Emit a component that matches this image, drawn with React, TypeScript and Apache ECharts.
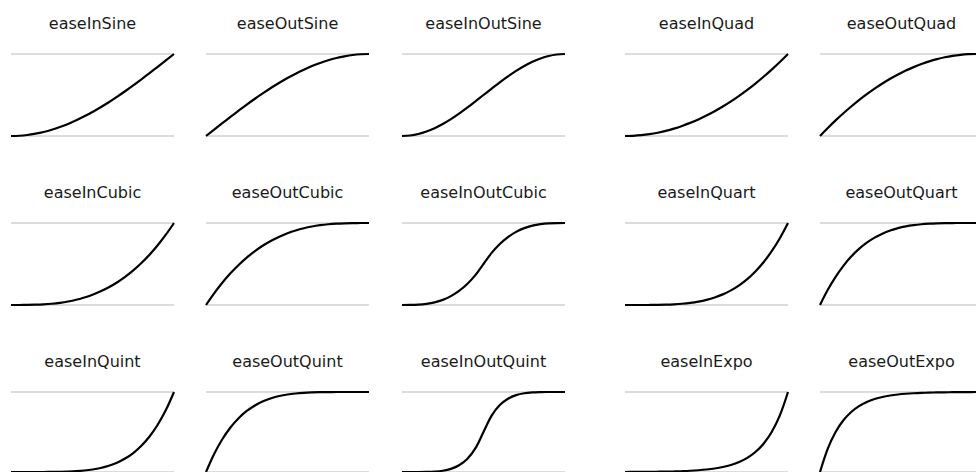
import React, { useEffect, useRef } from "react";
import * as echarts from "echarts";

// shared x positions (progress 0..1)
const tValues = [0, 0.05, 0.1, 0.15, 0.2, 0.25, 0.3, 0.35, 0.4, 0.45, 0.5, 0.55, 0.6, 0.65, 0.7, 0.75, 0.8, 0.85, 0.9, 0.95, 1];

const easeInSine = [0, 0.003, 0.012, 0.028, 0.049, 0.076, 0.109, 0.147, 0.191, 0.24, 0.293, 0.351, 0.412, 0.478, 0.546, 0.617, 0.691, 0.767, 0.844, 0.922, 1];
const easeOutSine = [0, 0.078, 0.156, 0.233, 0.309, 0.383, 0.454, 0.522, 0.588, 0.649, 0.707, 0.76, 0.809, 0.853, 0.891, 0.924, 0.951, 0.972, 0.988, 0.997, 1];
const easeInOutSine = [0, 0.006, 0.024, 0.054, 0.095, 0.146, 0.206, 0.273, 0.345, 0.422, 0.5, 0.578, 0.655, 0.727, 0.794, 0.854, 0.905, 0.946, 0.976, 0.994, 1];
const easeInQuad = [0, 0.0025, 0.01, 0.0225, 0.04, 0.0625, 0.09, 0.1225, 0.16, 0.2025, 0.25, 0.3025, 0.36, 0.4225, 0.49, 0.5625, 0.64, 0.7225, 0.81, 0.9025, 1];
const easeOutQuad = [0, 0.0975, 0.19, 0.2775, 0.36, 0.4375, 0.51, 0.5775, 0.64, 0.6975, 0.75, 0.7975, 0.84, 0.8775, 0.91, 0.9375, 0.96, 0.9775, 0.99, 0.9975, 1];
const easeInCubic = [0, 0.0001, 0.001, 0.0034, 0.008, 0.0156, 0.027, 0.0429, 0.064, 0.0911, 0.125, 0.1664, 0.216, 0.2746, 0.343, 0.4219, 0.512, 0.6141, 0.729, 0.8574, 1];
const easeOutCubic = [0, 0.1426, 0.271, 0.3859, 0.488, 0.5781, 0.657, 0.7254, 0.784, 0.8336, 0.875, 0.9089, 0.936, 0.9571, 0.973, 0.9844, 0.992, 0.9966, 0.999, 0.9999, 1];
const easeInOutCubic = [0, 0.0005, 0.004, 0.0135, 0.032, 0.0625, 0.108, 0.1715, 0.256, 0.3645, 0.5, 0.6355, 0.744, 0.8285, 0.892, 0.9375, 0.968, 0.9865, 0.996, 0.9995, 1];
const easeInQuart = [0, 0, 0.0001, 0.0005, 0.0016, 0.0039, 0.0081, 0.015, 0.0256, 0.041, 0.0625, 0.0915, 0.1296, 0.1785, 0.2401, 0.3164, 0.4096, 0.522, 0.6561, 0.8145, 1];
const easeOutQuart = [0, 0.1855, 0.3439, 0.478, 0.5904, 0.6836, 0.7599, 0.8215, 0.8704, 0.9085, 0.9375, 0.959, 0.9744, 0.985, 0.9919, 0.9961, 0.9984, 0.9995, 0.9999, 1, 1];
const easeInQuint = [0, 0, 0, 0.0001, 0.0003, 0.001, 0.0024, 0.0053, 0.0102, 0.0185, 0.0313, 0.0503, 0.0778, 0.116, 0.1681, 0.2373, 0.3277, 0.4437, 0.5905, 0.7738, 1];
const easeOutQuint = [0, 0.2262, 0.4095, 0.5563, 0.6723, 0.7627, 0.8319, 0.884, 0.9222, 0.9497, 0.9688, 0.9815, 0.9898, 0.9947, 0.9976, 0.999, 0.9997, 0.9999, 1, 1, 1];
const easeInOutQuint = [0, 0.0001, 0.0002, 0.0012, 0.0051, 0.0156, 0.0389, 0.084, 0.1638, 0.2952, 0.5, 0.7048, 0.8362, 0.916, 0.9611, 0.9844, 0.9949, 0.9988, 0.9998, 1, 1];
const easeInExpo = [0, 0.0014, 0.002, 0.0028, 0.0039, 0.0055, 0.0078, 0.011, 0.0156, 0.0221, 0.0313, 0.0442, 0.0625, 0.0884, 0.125, 0.1768, 0.25, 0.3536, 0.5, 0.7071, 1];
const easeOutExpo = [0, 0.2929, 0.5, 0.6464, 0.75, 0.8232, 0.875, 0.9116, 0.9375, 0.9558, 0.9688, 0.9779, 0.9844, 0.989, 0.9922, 0.9945, 0.9961, 0.9972, 0.998, 0.9986, 1];

const panelNames = [
  "easeInSine", "easeOutSine", "easeInOutSine", "easeInQuad", "easeOutQuad",
  "easeInCubic", "easeOutCubic", "easeInOutCubic", "easeInQuart", "easeOutQuart",
  "easeInQuint", "easeOutQuint", "easeInOutQuint", "easeInExpo", "easeOutExpo",
];
const panelValues = [
  easeInSine, easeOutSine, easeInOutSine, easeInQuad, easeOutQuad,
  easeInCubic, easeOutCubic, easeInOutCubic, easeInQuart, easeOutQuart,
  easeInQuint, easeOutQuint, easeInOutQuint, easeInExpo, easeOutExpo,
];

// layout
const colLefts = [11, 206, 402, 625, 820];
const rowTops = [54, 223, 392];
const rowHeights = [82, 82, 82];
const panelW = 163;
const titleOffset = 31;

export default function App() {
  const ref = useRef<HTMLDivElement>(null);

  useEffect(() => {
    if (!ref.current) return;
    const chart = echarts.init(ref.current, null, { renderer: "svg" });

    const grids: any[] = [];
    const xAxes: any[] = [];
    const yAxes: any[] = [];
    const series: any[] = [];
    const titles: any[] = [];

    panelNames.forEach((name, i) => {
      const r = Math.floor(i / 5);
      const c = i % 5;
      const left = colLefts[c];
      const top = rowTops[r];
      grids.push({ left, top, width: panelW, height: rowHeights[r], containLabel: false });
      xAxes.push({
        type: "value", gridIndex: i, min: 0, max: 1, show: false,
      });
      yAxes.push({
        type: "value", gridIndex: i, min: 0, max: 1, interval: 1,
        axisLine: { show: false }, axisTick: { show: false }, axisLabel: { show: false },
        splitLine: { show: true, lineStyle: { color: "#dcdcdc", width: 2 } },
      });
      series.push({
        type: "line", name, xAxisIndex: i, yAxisIndex: i,
        data: tValues.map((t, k) => [t, panelValues[i][k]]),
        smooth: 0.35, showSymbol: false, symbol: "none",
        clip: false,
        lineStyle: { color: "#000", width: 2.2 },
        silent: true,
      });
      titles.push({
        text: name,
        left: left + panelW / 2,
        top: top - titleOffset - 10,
        textAlign: "center",
        padding: 0,
        textStyle: {
          fontFamily: "'DejaVu Sans', sans-serif",
          fontSize: 16,
          fontWeight: "normal",
          color: "#1a1a1a",
          lineHeight: 20,
        },
      });
    });

    chart.setOption({
      animation: false,
      backgroundColor: "#fff",
      title: titles,
      grid: grids,
      xAxis: xAxes,
      yAxis: yAxes,
      series,
    });
    return () => chart.dispose();
  }, []);

  return (
    <div
      ref={ref}
      style={{ position: "fixed", left: 0, top: 0, width: 976, height: 472, overflow: "hidden" }}
    />
  );
}
